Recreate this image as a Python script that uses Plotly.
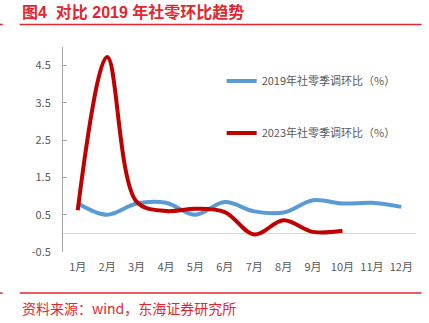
import plotly.graph_objects as go

months = ["1月", "2月", "3月", "4月", "5月", "6月", "7月", "8月", "9月", "10月", "11月", "12月"]
s2019 = [0.81, 0.50, 0.80, 0.82, 0.50, 0.84, 0.59, 0.56, 0.89, 0.80, 0.82, 0.71]
s2023 = [0.62, 4.73, 0.85, 0.60, 0.66, 0.57, -0.03, 0.35, 0.04, 0.07]
name2019 = "2019年社零季调环比（%）"
name2023 = "2023年社零季调环比（%）"
y_ticks = [-0.5, 0.5, 1.5, 2.5, 3.5, 4.5]

W, H = 429, 323
ML, MR, MT, MB = 63.3, 12.6, 47, 71.3
PW = W - ML - MR
PH = H - MT - MB

def px(x):
    return (x - ML) / PW

def py(y):
    return (H - MB - y) / PH

FONT = "Noto Sans CJK SC"
RED = "#E3262E"

fig = go.Figure()
fig.add_trace(go.Scatter(x=months, y=s2019, mode="lines", name=name2019, legendgroup="a",
                         line=dict(color="#5B9BD5", width=4, shape="spline", smoothing=1.0)))
fig.add_trace(go.Scatter(x=months[:len(s2023)], y=s2023, mode="lines", name=name2023, legendgroup="b",
                         line=dict(color="#C00000", width=4, shape="spline", smoothing=1.0)))

fig.update_layout(
    width=W, height=H,
    margin=dict(l=ML, r=MR, t=MT, b=MB),
    paper_bgcolor="white", plot_bgcolor="white",
    font=dict(family=FONT, size=11, color="#595959"),
    showlegend=True,
    legend=dict(x=px(222), y=py(66.5), xanchor="left", yanchor="top",
                traceorder="grouped", tracegroupgap=33,
                bgcolor="rgba(0,0,0,0)", font=dict(size=11, color="#595959")),
    xaxis=dict(type="category", categoryorder="array", categoryarray=months,
               range=[-0.5, 11.5], showgrid=False, showline=False, ticks="",
               zeroline=False, ticklabelstandoff=7,
               tickfont=dict(size=11, color="#595959")),
    yaxis=dict(range=[-0.5, 5.0], tickvals=y_ticks, ticktext=[str(v) for v in y_ticks],
               showgrid=False, zeroline=True, zerolinecolor="#D9D9D9", zerolinewidth=1,
               showline=True, linecolor="#A6A6A6", linewidth=1,
               ticks="inside", ticklen=4, tickcolor="#A6A6A6",
               ticklabelstandoff=9,
               tickfont=dict(size=11, color="#595959")),
)

fig.add_annotation(text="<b>图4\u00a0\u00a0对比 2019 年社零环比趋势</b>", xref="paper", yref="paper",
                   x=px(20), y=py(12.5), xanchor="left", yanchor="middle", showarrow=False,
                   font=dict(family="Liberation Sans, Noto Sans CJK SC", size=16, color=RED))
fig.add_annotation(text="资料来源：wind，东海证券研究所", xref="paper", yref="paper",
                   x=px(20), y=py(307.5), xanchor="left", yanchor="middle", showarrow=False,
                   font=dict(family=FONT, size=14, color=RED))

for yy in (24.5, 292.7):
    fig.add_shape(type="line", xref="paper", yref="paper", x0=px(20), x1=px(422),
                  y0=py(yy), y1=py(yy), line=dict(color=RED, width=1.5))
    fig.add_shape(type="line", xref="paper", yref="paper", x0=px(0), x1=px(3),
                  y0=py(yy), y1=py(yy), line=dict(color=RED, width=1.5))

fig.write_html("out.html")
